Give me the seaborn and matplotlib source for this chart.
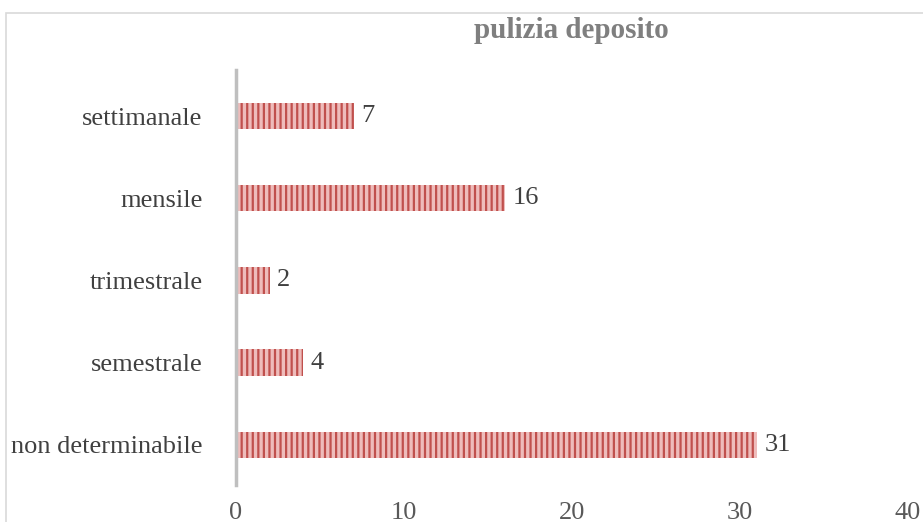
import matplotlib
matplotlib.use("Agg")
import matplotlib.pyplot as plt
import seaborn as sns
import pandas as pd
from matplotlib.patches import Rectangle

# data
categories = ["settimanale", "mensile", "trimestrale", "semestrale", "non determinabile"]
values = [7, 16, 2, 4, 31]
x_ticks = [0, 10, 20, 30, 40]

sns.set_theme(style="white")
plt.rcParams["font.family"] = ["Liberation Serif", "DejaVu Serif"]
plt.rcParams["hatch.color"] = "#c0504d"
plt.rcParams["hatch.linewidth"] = 1.6

df = pd.DataFrame({"cat": categories, "val": values})

fig = plt.figure(figsize=(9.23, 5.22), dpi=100)
# outer chart border (partly cut off like the reference)
fig.patches.append(Rectangle((6 / 923, -0.1), 1.2, 1 - 13 / 522 + 0.1,
                             transform=fig.transFigure, fill=False,
                             edgecolor="#d9d9d9", linewidth=1.2))

ax = fig.add_axes([236 / 923, 1 - 485 / 522, 672 / 923, 415 / 522])
sns.barplot(data=df, x="val", y="cat", orient="h", ax=ax, width=0.32,
            color="#eebcbb", saturation=1, linewidth=0, edgecolor="#c0504d")
for bar in ax.patches:
    bar.set_hatch("|||")

for bar, v in zip(ax.patches, values):
    ax.text(bar.get_width() + 0.45, bar.get_y() + bar.get_height() / 2, str(v),
            va="center", ha="left", fontsize=19, color="#404040")

ax.set_xlim(0, 40)
ax.set_ylim(4.49, -0.56)
ax.set_xticks(x_ticks)
ax.set_xticklabels([str(t) for t in x_ticks], fontsize=19, color="#595959")
ax.tick_params(axis="x", length=0, pad=12)
ax.tick_params(axis="y", length=0, pad=24, labelsize=19, labelcolor="#404040")
ax.set_xlabel("")
ax.set_ylabel("")
for s in ["top", "right", "bottom"]:
    ax.spines[s].set_visible(False)
ax.spines["left"].set_color("#bfbfbf")
ax.spines["left"].set_linewidth(2.5)

fig.text(571 / 923, 1 - 30 / 522, "pulizia deposito", ha="center", va="center",
         fontsize=21, fontweight="bold", color="#7f7f7f")

fig.savefig("out.png", dpi=100)
